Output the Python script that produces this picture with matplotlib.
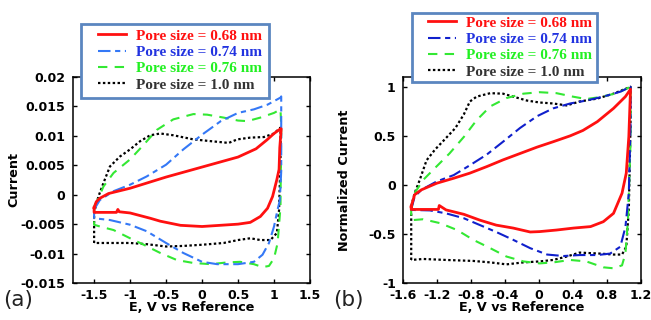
import matplotlib
matplotlib.use("Agg")
import matplotlib.pyplot as plt
from matplotlib.patches import Rectangle

# ============================
# Data - (a) raw current, (b) normalized current
# ============================
labels = ["Pore size = 0.68 nm", "Pore size = 0.74 nm",
          "Pore size = 0.76 nm", "Pore size = 1.0 nm"]

# (a) Current vs E
xa_red = [-1.5, -1.47, -1.42, -1.3, -1.0, -0.5, 0.0, 0.5, 0.75, 0.9, 1.0, 1.09, 1.1,
          1.08, 1.07, 1.04, 0.98, 0.91, 0.81, 0.67, 0.5, 0.0, -0.3, -0.58, -0.72,
          -1.0, -1.15, -1.17, -1.19, -1.5, -1.5]
ya_red = [-0.0022, -0.0012, -0.0006, 0.0002, 0.0011, 0.003, 0.0047, 0.0064, 0.0078,
          0.0093, 0.0104, 0.0112, 0.0112, 0.008, 0.0043, 0.0026, -0.0003, -0.0023,
          -0.0037, -0.0047, -0.005, -0.0054, -0.0052, -0.0045, -0.004, -0.0031,
          -0.0029, -0.0025, -0.003, -0.003, -0.0022]

xa_blue = [-1.5, -1.42, -1.23, -1.0, -0.77, -0.5, -0.26, 0.0, 0.26, 0.5, 0.72, 0.91,
           1.09, 1.1, 1.1, 1.08, 1.05, 1.0, 0.93, 0.84, 0.72, 0.5, 0.21, 0.0, -0.26,
           -0.5, -0.77, -1.0, -1.28, -1.5, -1.5]
ya_blue = [-0.0025, -0.0009, 0.0006, 0.0017, 0.0031, 0.0051, 0.0077, 0.0102, 0.0125,
           0.0139, 0.0145, 0.0153, 0.0165, 0.0167, 0.004, -0.001, -0.0025, -0.0054,
           -0.0082, -0.0102, -0.0114, -0.0118, -0.0118, -0.0114, -0.0099, -0.0082,
           -0.0062, -0.0051, -0.0043, -0.004, -0.0025]

xa_green = [-1.5, -1.44, -1.37, -1.23, -1.0, -0.81, -0.63, -0.4, -0.12, 0.07, 0.3,
            0.5, 0.63, 0.81, 1.0, 1.09, 1.1, 1.09, 1.05, 1.0, 0.93, 0.84, 0.72, 0.53,
            0.35, 0.12, -0.12, -0.35, -0.58, -0.81, -1.0, -1.23, -1.42, -1.5, -1.5]
ya_green = [-0.002, -0.0006, 0.0014, 0.0037, 0.006, 0.0085, 0.011, 0.0128, 0.0137,
            0.0136, 0.0131, 0.0126, 0.0125, 0.0131, 0.0139, 0.0145, 0.0116, -0.002,
            -0.0082, -0.0108, -0.0121, -0.0123, -0.0118, -0.0114, -0.0115, -0.0118,
            -0.0116, -0.0111, -0.0099, -0.0085, -0.0074, -0.006, -0.0054, -0.0051,
            -0.002]

xa_black = [-1.5, -1.5, -1.44, -1.37, -1.28, -1.14, -1.0, -0.86, -0.72, -0.58, -0.4,
            -0.12, 0.12, 0.37, 0.49, 0.67, 0.86, 1.0, 1.09, 1.09, 1.07, 1.04, 0.95,
            0.81, 0.67, 0.5, 0.3, 0.0, -0.26, -0.5, -0.77, -1.0, -1.28, -1.5]
ya_black = [-0.0082, -0.003, -0.0003, 0.002, 0.0048, 0.0065, 0.0077, 0.0091, 0.0101,
            0.0104, 0.0101, 0.0094, 0.0091, 0.0088, 0.0094, 0.0097, 0.0098, 0.0104,
            0.0114, 0.006, -0.0026, -0.0065, -0.0077, -0.0077, -0.0074, -0.0077,
            -0.0082, -0.0085, -0.0087, -0.0088, -0.0084, -0.0082, -0.0082, -0.0082]

# (b) Normalized current vs E
xb_red = [-1.5, -1.46, -1.38, -1.2, -1.0, -0.81, -0.61, -0.42, -0.22, -0.02, 0.17,
          0.37, 0.52, 0.69, 0.88, 1.02, 1.08, 1.06, 1.03, 0.98, 0.88, 0.76, 0.61,
          0.41, 0.21, 0.01, -0.1, -0.3, -0.5, -0.69, -0.88, -1.09, -1.17, -1.18,
          -1.36, -1.5, -1.5]
yb_red = [-0.22, -0.1, -0.05, 0.017, 0.068, 0.12, 0.187, 0.255, 0.32, 0.385, 0.44,
          0.5, 0.555, 0.645, 0.78, 0.9, 0.975, 0.49, 0.12, -0.085, -0.29, -0.375,
          -0.425, -0.44, -0.46, -0.476, -0.48, -0.44, -0.41, -0.36, -0.3, -0.255,
          -0.21, -0.25, -0.25, -0.25, -0.22]

xb_blue = [-1.5, -1.46, -1.38, -1.2, -1.0, -0.81, -0.61, -0.42, -0.22, -0.02, 0.17,
           0.37, 0.56, 0.76, 0.96, 1.08, 1.08, 1.06, 1.02, 0.96, 0.84, 0.69, 0.48,
           0.29, 0.1, -0.1, -0.3, -0.5, -0.69, -0.88, -1.09, -1.28, -1.5]
yb_blue = [-0.25, -0.12, -0.05, 0.035, 0.1, 0.2, 0.31, 0.44, 0.58, 0.7, 0.78, 0.83,
           0.86, 0.9, 0.95, 1.0, 0.6, -0.085, -0.43, -0.63, -0.7, -0.715, -0.715,
           -0.725, -0.71, -0.645, -0.56, -0.48, -0.41, -0.34, -0.29, -0.26, -0.255]

xb_green = [-1.5, -1.46, -1.36, -1.2, -1.05, -0.88, -0.73, -0.57, -0.38, -0.18, 0.01,
            0.21, 0.4, 0.56, 0.72, 0.92, 1.08, 1.08, 1.05, 1.02, 0.98, 0.88, 0.76,
            0.56, 0.37, 0.17, 0.01, -0.18, -0.38, -0.57, -0.77, -0.96, -1.16, -1.36,
            -1.5, -1.5]
yb_green = [-0.25, -0.085, 0.05, 0.19, 0.32, 0.49, 0.66, 0.8, 0.885, 0.93, 0.945,
            0.935, 0.9, 0.875, 0.895, 0.935, 1.0, 0.43, -0.36, -0.7, -0.82, -0.85,
            -0.84, -0.78, -0.765, -0.79, -0.8, -0.78, -0.73, -0.645, -0.56, -0.46,
            -0.39, -0.35, -0.36, -0.25]

xb_black = [-1.5, -1.5, -1.46, -1.4, -1.32, -1.22, -1.11, -0.98, -0.88, -0.81, -0.73,
            -0.57, -0.42, -0.3, -0.14, 0.01, 0.17, 0.33, 0.48, 0.69, 0.88, 1.08, 1.08,
            1.06, 1.03, 0.98, 0.88, 0.72, 0.48, 0.33, 0.17, 0.01, -0.18, -0.38, -0.57,
            -0.77, -1.09, -1.36, -1.5]
yb_black = [-0.765, -0.22, -0.085, 0.05, 0.25, 0.36, 0.46, 0.58, 0.72, 0.85, 0.9,
            0.935, 0.93, 0.9, 0.86, 0.84, 0.83, 0.81, 0.85, 0.88, 0.93, 1.0, 0.6,
            -0.25, -0.63, -0.71, -0.71, -0.7, -0.69, -0.73, -0.765, -0.78, -0.79,
            -0.81, -0.79, -0.775, -0.765, -0.755, -0.765]

xa_ticks = [-1.5, -1, -0.5, 0, 0.5, 1, 1.5]
xa_ticklabels = ["-1.5", "-1", "-0.5", "0", "0.5", "1", "1.5"]
ya_ticks = [-0.015, -0.01, -0.005, 0, 0.005, 0.01, 0.015, 0.02]
ya_ticklabels = ["-0.015", "-0.01", "-0.005", "0", "0.005", "0.01", "0.015", "0.02"]
xb_ticks = [-1.6, -1.2, -0.8, -0.4, 0, 0.4, 0.8, 1.2]
xb_ticklabels = ["-1.6", "-1.2", "-0.8", "-0.4", "0", "0.4", "0.8", "1.2"]
yb_ticks = [-1, -0.5, 0, 0.5, 1]
yb_ticklabels = ["-1", "-0.5", "0", "0.5", "1"]

# ============================
# Style
# ============================
plt.rcParams["font.family"] = "DejaVu Sans"
plt.rcParams["font.weight"] = "bold"
plt.rcParams["axes.linewidth"] = 1.1

RED = "#ff1010"
GREEN = "#33e833"
BLACK = "#000000"
TEXT_COLORS = ["#ff1010", "#2233e0", "#22f022", "#333333"]

W, H = 651, 320
fig = plt.figure(figsize=(W / 100, H / 100), dpi=100)
ax_a = fig.add_axes([0.1114, 0.1156, 0.3648, 0.6438])
ax_b = fig.add_axes([0.6186, 0.1156, 0.3656, 0.6438])


def draw_loops(ax, xs, ys, blue):
    lines = []
    lines.append(ax.plot(xs[0], ys[0], color=RED, lw=2.0, zorder=4)[0])
    lines.append(ax.plot(xs[1], ys[1], color=blue, lw=1.5, zorder=3,
                         dashes=(6, 2.2, 2.5, 2.2))[0])
    lines.append(ax.plot(xs[2], ys[2], color=GREEN, lw=1.5, zorder=2,
                         dashes=(4.5, 3.5))[0])
    lines.append(ax.plot(xs[3], ys[3], color=BLACK, lw=1.6, zorder=1,
                         dashes=(1.1, 1.1))[0])
    return lines


def style_axes(ax, xlim, ylim, xt, xtl, yt, ytl, ylabel, ypad, ylab_x):
    ax.set_xlim(*xlim)
    ax.set_ylim(*ylim)
    ax.set_xticks(xt)
    ax.set_xticklabels(xtl)
    ax.set_yticks(yt)
    ax.set_yticklabels(ytl)
    ax.tick_params(direction="in", length=3, width=1, top=True, right=True,
                   labelsize=9)
    ax.tick_params(axis="x", pad=4)
    ax.tick_params(axis="y", pad=ypad)
    ax.set_xlabel("E, V vs Reference", fontsize=9.2, fontweight="bold")
    ax.set_ylabel(ylabel, fontsize=9.2, fontweight="bold")
    ax.xaxis.set_label_coords(0.5, -0.085)
    ax.yaxis.set_label_coords(ylab_x, 0.5)


def add_legend(lines, box, handle_x, top_y):
    # box = (left, top, right, bottom) in pixels from the top-left corner
    left, top, right, bottom = box
    frame = Rectangle((left / W, 1 - bottom / H), (right - left) / W,
                      (bottom - top) / H, transform=fig.transFigure,
                      facecolor="white", edgecolor="#5b86c0", linewidth=2,
                      zorder=10)
    fig.add_artist(frame)
    leg = fig.legend(lines, labels, loc="upper left",
                     bbox_to_anchor=(handle_x / W, 1 - top_y / H),
                     prop={"family": "Liberation Serif", "weight": "bold",
                           "size": 11},
                     frameon=False, borderpad=0, labelspacing=0.17,
                     handlelength=1.8, handletextpad=0.72, borderaxespad=0)
    for txt, c in zip(leg.get_texts(), TEXT_COLORS):
        txt.set_color(c)
    leg.set_zorder(11)


# ============================
# (a) Current
# ============================
lines_a = draw_loops(ax_a, [xa_red, xa_blue, xa_green, xa_black],
                     [ya_red, ya_blue, ya_green, ya_black], "#3478f6")
style_axes(ax_a, (-1.8, 1.5), (-0.015, 0.02), xa_ticks, xa_ticklabels,
           ya_ticks, ya_ticklabels, "Current", 5, -0.22)
add_legend(lines_a, (81, 24, 269, 98), 98, 29)

# ============================
# (b) Normalized current
# ============================
lines_b = draw_loops(ax_b, [xb_red, xb_blue, xb_green, xb_black],
                     [yb_red, yb_blue, yb_green, yb_black], "#1020cc")
style_axes(ax_b, (-1.6, 1.2), (-1, 1.1), xb_ticks, xb_ticklabels,
           yb_ticks, yb_ticklabels, "Normalized Current", 5, -0.217)
add_legend(lines_b, (412, 13, 597, 82), 428, 16)

fig.text(3 / W, 1 - 300 / H, "(a)", fontsize=15.5, fontweight="normal",
         va="center", ha="left", color="#222222")
fig.text(333 / W, 1 - 300 / H, "(b)", fontsize=15.5, fontweight="normal",
         va="center", ha="left", color="#222222")

fig.savefig("out.png", dpi=100)
